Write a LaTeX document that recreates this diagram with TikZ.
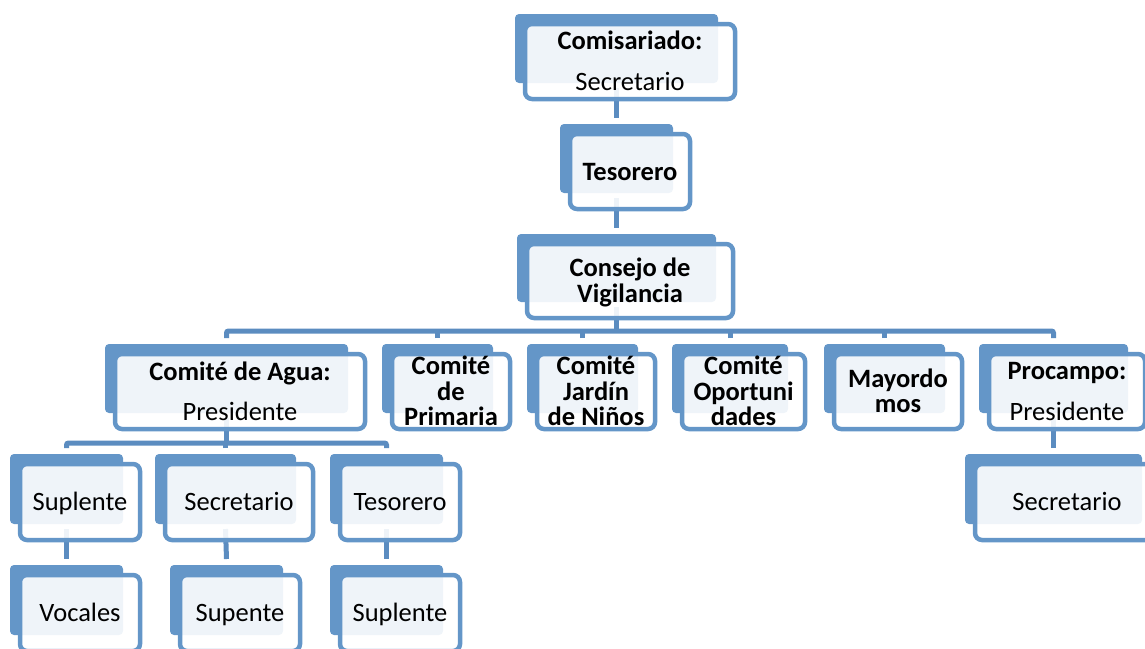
\documentclass[tikz,border=0pt]{standalone}
\usepackage{fontspec}
\setmainfont{Carlito}
\usetikzlibrary{calc}
\pgfdeclarelayer{bg}
\pgfsetlayers{bg,main}
\definecolor{boxblue}{HTML}{6496C8}
\definecolor{linkblue}{HTML}{5B8CC0}
\tikzset{
  backbox/.style={fill=boxblue, rounded corners=4pt, inner sep=0pt, outer sep=0pt},
  frontbox/.style={draw=boxblue, line width=4.5pt, fill=white, fill opacity=0.9, draw opacity=1, rounded corners=7pt, inner sep=0pt, outer sep=0pt},
  lbl/.style={align=center, inner sep=0pt, font=\fontsize{26.5}{25.5}\selectfont, text=black},
  link/.style={draw=linkblue, line width=5pt, rounded corners=2pt},
}
\newcommand{\orgbox}[6]{%
  \node[backbox, minimum width={#4-#2-7}, minimum height={#5-#3-6}] (b#1) at ({(#2+#4)/2-13.5},{(#3+#5)/2-13}) {};
  \node[frontbox, minimum width={#4-#2}, minimum height={#5-#3}] (f#1) at ({(#2+#4)/2},{(#3+#5)/2}) {};
  \node[lbl] (t#1) at (f#1.center) {\rule{0pt}{24pt}#6\rule[-7pt]{0pt}{7pt}};
}
\begin{document}
\begin{tikzpicture}[x=1pt,y=-1pt]
\useasboundingbox (0,0) rectangle (1145,648);
\clip (0,0) rectangle (1145,648);
% top chain
\orgbox{com}{525}{24}{735}{99}{\textbf{Comisariado:}\\[16pt]Secretario}
\orgbox{tes}{570}{134}{690}{209}{\textbf{Tesorero}}
\orgbox{con}{527}{244}{733}{318}{\textbf{Consejo de}\\\textbf{Vigilancia}}
% row 2
\orgbox{agua}{115}{354}{365}{429}{\textbf{Comité de Agua:}\\[14.5pt]Presidente}
\orgbox{prim}{392}{354}{510}{429}{\textbf{Comité}\\\textbf{de}\\\textbf{Primaria}}
\orgbox{jard}{537}{354}{655}{429}{\textbf{Comité}\\\textbf{Jardín}\\\textbf{de Niños}}
\orgbox{opor}{682}{354}{805}{429}{\textbf{Comité}\\\textbf{Oportuni}\\\textbf{dades}}
\orgbox{mayo}{834}{354}{962}{429}{\textbf{Mayordo}\\\textbf{mos}}
\orgbox{proc}{989}{354}{1145}{429}{\textbf{Procampo:}\\[15.5pt]Presidente}
% row 3
\orgbox{supA}{20}{464}{140}{540}{Suplente}
\orgbox{secA}{165}{464}{313}{540}{Secretario}
\orgbox{tesA}{340}{464}{460}{540}{Tesorero}
\orgbox{secP}{975}{464}{1159}{540}{Secretario}
% row 4
\orgbox{voc}{20}{575}{140}{651}{Vocales}
\orgbox{supB}{180}{575}{300}{651}{Supente}
\orgbox{supC}{340}{575}{460}{651}{Suplente}
% connectors
\begin{pgfonlayer}{bg}
\coordinate (bus1) at (0,331);
\coordinate (bus2) at (0,443);
\draw[link] ([yshift=-5pt]bcom.south) -- ([yshift=6pt]btes.north);
\draw[link] ([yshift=-5pt]btes.south) -- ([yshift=6pt]bcon.north);
\draw[link] ([yshift=-5pt]bcon.south) -- (bcon.south |- bus1);
\draw[link] ([yshift=6pt]bagua.north) |- (bproc.north |- bus1) -- ([yshift=6pt]bproc.north);
\foreach \n in {prim,jard,opor,mayo}
  \draw[link] ([yshift=6pt]b\n.north) -- (b\n.north |- bus1);
\draw[link] ([yshift=-5pt]bagua.south) -- (bagua.south |- bus2);
\draw[link] ([yshift=6pt]bsupA.north) |- (btesA.north |- bus2) -- ([yshift=6pt]btesA.north);
\draw[link] ([yshift=6pt]bsecA.north) -- (bsecA.north |- bus2);
\draw[link] ([yshift=-5pt]bsupA.south) -- ([yshift=6pt]bvoc.north);
\draw[link] ([yshift=-5pt]bsecA.south) -- ([yshift=6pt]bsupB.north);
\draw[link] ([yshift=-5pt]btesA.south) -- ([yshift=6pt]bsupC.north);
\draw[link] ([yshift=-5pt]bproc.south) -- ([yshift=6pt]bsecP.north);
\end{pgfonlayer}
\end{tikzpicture}
\end{document}
